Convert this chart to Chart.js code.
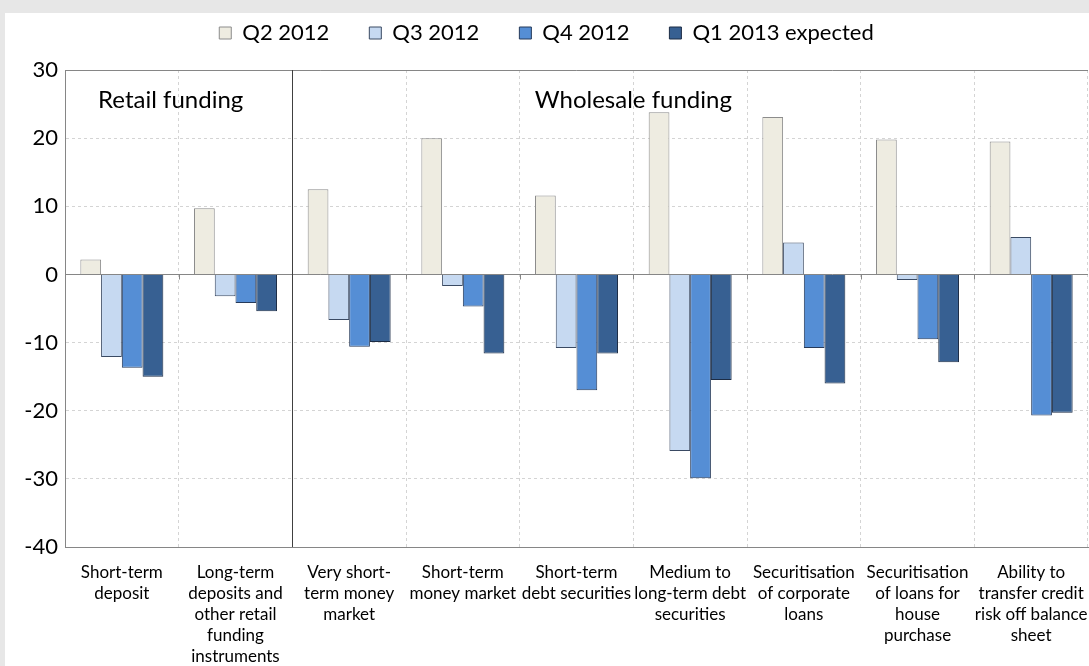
<!DOCTYPE html>
<html>
<head>
<meta charset="utf-8">
<script src="https://cdn.jsdelivr.net/npm/chart.js@4"></script>
<style>
  html, body { margin: 0; padding: 0; background: #e7e7e7; }
  #wrap { width: 1089px; height: 666px; position: relative; }
</style>
</head>
<body>
<div id="wrap"><canvas id="fundingChart" width="1089" height="666"></canvas></div>
<script>
// categories and series
const categories = [
    ['Short-term', 'deposit'],
    ['Long-term', 'deposits and', 'other retail', 'funding', 'instruments'],
    ['Very short-', 'term money', 'market'],
    ['Short-term', 'money market'],
    ['Short-term', 'debt securities'],
    ['Medium to', 'long-term debt', 'securities'],
    ['Securitisation', 'of corporate', 'loans'],
    ['Securitisation', 'of loans for', 'house', 'purchase'],
    ['Ability to', 'transfer credit', 'risk off balance', 'sheet']
];
const seriesNames = ['Q2 2012', 'Q3 2012', 'Q4 2012', 'Q1 2013 expected'];
const q2_2012 = [2.2, 9.7, 12.5, 20.0, 11.6, 23.8, 23.1, 19.8, 19.5];
const q3_2012 = [-12.1, -3.2, -6.7, -1.7, -10.8, -25.9, 4.7, -0.8, 5.5];
const q4_2012 = [-13.7, -4.2, -10.6, -4.7, -17.0, -29.9, -10.8, -9.5, -20.7];
const q1_2013 = [-15.0, -5.4, -9.9, -11.6, -11.6, -15.5, -16.0, -12.9, -20.3];
const yTicks = [30, 20, 10, 0, -10, -20, -30, -40];

const fills = ['#eeece1', '#c6d9f1', '#558ed5', '#376092'];
const edges = ['#8c8c8c', '#3a4a63', '#263a5a', '#1c2c45'];
const FONT = 'Lato, Calibri, sans-serif';

// panel background, zero line, separator and group captions
const decor = {
    id: 'decor',
    afterInit(chart) {
        // leave a gap between the legend and the plot
        const legend = chart.legend;
        const fit = legend.fit;
        legend.fit = function () { fit.call(this); this.height += 16; };
    },
    beforeDraw(chart) {
        const ctx = chart.ctx;
        ctx.save();
        ctx.fillStyle = '#ffffff';
        ctx.fillRect(5, 13, chart.width - 5, chart.height - 13);
        ctx.restore();
    },
    beforeDatasetsDraw(chart) {
        const {ctx, chartArea: a, scales: {x, y}} = chart;
        const y0 = Math.round(y.getPixelForValue(0)) + 0.5;
        ctx.save();
        ctx.strokeStyle = '#868686';
        ctx.lineWidth = 1;
        ctx.beginPath();
        ctx.moveTo(a.left, y0);
        ctx.lineTo(a.right, y0);
        // small ticks under the zero line at category boundaries
        for (let i = 1; i < categories.length; i++) {
            const bx = Math.round((x.getPixelForValue(i - 1) + x.getPixelForValue(i)) / 2) + 0.5;
            ctx.moveTo(bx, y0);
            ctx.lineTo(bx, y0 + 5);
        }
        // top edge of the plot
        const yt = Math.round(a.top) + 0.5;
        ctx.moveTo(a.left, yt);
        ctx.lineTo(a.right, yt);
        ctx.stroke();

        // retail / wholesale separator
        const sx = Math.round((x.getPixelForValue(1) + x.getPixelForValue(2)) / 2) + 0.5;
        ctx.strokeStyle = '#404040';
        ctx.beginPath();
        ctx.moveTo(sx, a.top);
        ctx.lineTo(sx, a.bottom);
        ctx.stroke();

        ctx.fillStyle = '#000000';
        ctx.font = '24px ' + FONT;
        ctx.textAlign = 'center';
        ctx.textBaseline = 'middle';
        const ty = y.getPixelForValue(25.6);
        const retailX = (x.getPixelForValue(0) + x.getPixelForValue(1)) / 2 - 8;
        const wholeX = (x.getPixelForValue(4) + x.getPixelForValue(5)) / 2;
        ctx.fillText('Retail funding', retailX, ty);
        ctx.fillText('Wholesale funding', wholeX, ty);
        ctx.restore();
    }
};

const seriesData = [q2_2012, q3_2012, q4_2012, q1_2013];

new Chart(document.getElementById('fundingChart'), {
    type: 'bar',
    data: {
        labels: categories,
        datasets: seriesNames.map((name, i) => ({
            label: name,
            data: seriesData[i],
            backgroundColor: fills[i],
            borderColor: edges[i],
            borderWidth: 1,
            categoryPercentage: 0.73,
            barPercentage: 1
        }))
    },
    options: {
        responsive: false,
        animation: false,
        layout: { padding: { left: 5, top: -18, right: 1, bottom: 0 } },
        plugins: {
            legend: {
                position: 'top',
                labels: {
                    boxWidth: 12,
                    boxHeight: 12,
                    padding: 40,
                    color: '#000',
                    font: { family: FONT, size: 22 }
                }
            },
            tooltip: { enabled: false }
        },
        scales: {
            x: {
                grid: { color: '#d4d4d4', drawTicks: false },
                border: { display: true, color: '#868686', dash: [3, 3] },
                ticks: {
                    color: '#000',
                    font: { family: FONT, size: 17, lineHeight: 21 / 17 },
                    padding: 15,
                    maxRotation: 0,
                    autoSkip: false
                },
                afterFit(scale) {
                    scale.height = 119;
                    // let the last label run to the edge like the original
                    scale.paddingLeft = 0;
                    scale.paddingRight = 0;
                }
            },
            y: {
                min: -40,
                max: 30,
                afterBuildTicks(scale) { scale.ticks = yTicks.map(v => ({ value: v })); },
                grid: { color: '#d4d4d4', drawTicks: false },
                border: { display: true, color: '#868686', dash: [3, 3] },
                ticks: {
                    color: '#000',
                    font: { family: FONT, size: 22 },
                    padding: 7
                },
                afterFit(scale) { scale.width = 60; }
            }
        }
    },
    plugins: [decor]
});
</script>
</body>
</html>
